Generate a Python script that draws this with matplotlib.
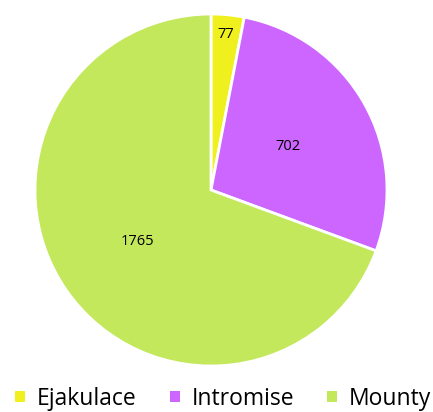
import numpy as np
import matplotlib.pyplot as plt
from matplotlib.patches import Patch

categories = ['Ejakulace', 'Intromise', 'Mounty']
values = [77, 702, 1765]
colors = ['#f0f01e', '#cc66ff', '#c4e85c']
label_r = [0.89, 0.5, 0.51]

plt.rcParams['font.family'] = ['Open Sans', 'DejaVu Sans']

fig = plt.figure(figsize=(4.33, 4.12), dpi=100)
ax = fig.add_axes([35 / 433, 46 / 412, 352 / 433, 352 / 412])

wedges, _ = ax.pie(values, colors=colors, startangle=90, counterclock=False,
                   wedgeprops=dict(edgecolor='white', linewidth=2))

for w, v, r in zip(wedges, values, label_r):
    ang = np.deg2rad((w.theta1 + w.theta2) / 2)
    ax.text(r * np.cos(ang), r * np.sin(ang), str(v), ha='center', va='center',
            fontsize=10.5, color='black')

ax.set_xlim(-1, 1)
ax.set_ylim(-1, 1)
ax.set_aspect('equal')

handles = [Patch(facecolor=c, edgecolor='none') for c in colors]
fig.legend(handles, categories, loc='center', bbox_to_anchor=(0.515, 13 / 412),
           ncol=3, frameon=False, fontsize=16.5, handlelength=0.45, handleheight=0.35,
           handletextpad=0.5, columnspacing=1.45, borderpad=0)

fig.savefig('out.png', dpi=100)
